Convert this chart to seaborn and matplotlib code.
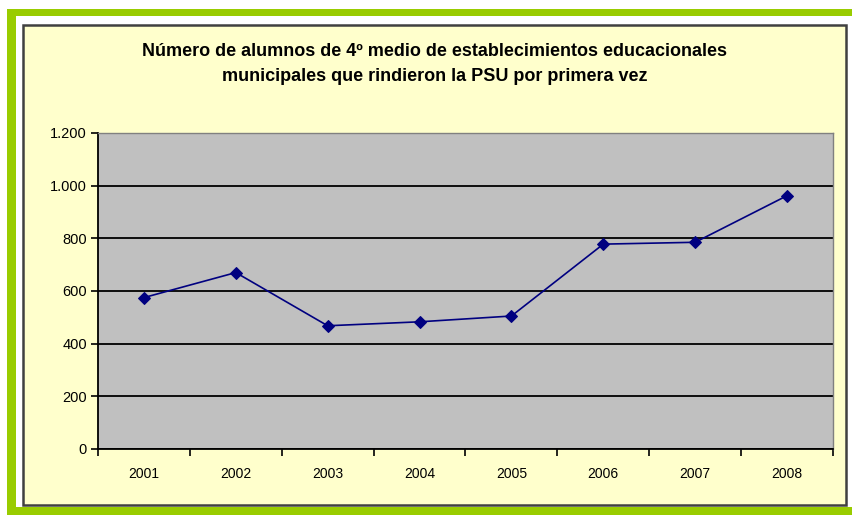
import matplotlib
matplotlib.use("Agg")
import matplotlib.pyplot as plt
import matplotlib.patches as mpatches
from matplotlib.ticker import FixedLocator, FuncFormatter, NullFormatter
import pandas as pd
import seaborn as sns

# data
years = ["2001", "2002", "2003", "2004", "2005", "2006", "2007", "2008"]
alumnos = [575, 670, 468, 483, 505, 778, 785, 962]
y_ticks = [0, 200, 400, 600, 800, 1000, 1200]
title = ("Número de alumnos de 4º medio de establecimientos educacionales\n"
         "municipales que rindieron la PSU por primera vez")

sns.set_theme(style="white")
plt.rcParams['font.family'] = ['Liberation Sans', 'DejaVu Sans']

W, H = 853, 516
fig = plt.figure(figsize=(W / 100, H / 100), dpi=100)
fig.patch.set_facecolor("white")


def px_rect(x0, y0, x1, y1, **kw):
    # rectangle given in pixel coords measured from the top-left corner
    return mpatches.Rectangle((x0 / W, 1 - y1 / H), (x1 - x0) / W, (y1 - y0) / H,
                              transform=fig.transFigure, zorder=-1, **kw)


green = "#99CC00"
fig.patches.append(px_rect(7, 9, 853, 16, facecolor=green, edgecolor="none"))
fig.patches.append(px_rect(7, 9, 16, 515, facecolor=green, edgecolor="none"))
fig.patches.append(px_rect(7, 507, 853, 515, facecolor=green, edgecolor="none"))
fig.patches.append(px_rect(23, 25, 846, 505, facecolor="#FFFFCC",
                           edgecolor="#404040", linewidth=1.8))

ax = fig.add_axes([98 / W, 1 - 449 / H, (833 - 98) / W, (449 - 133) / H])
ax.set_zorder(2)
ax.set_facecolor("#C0C0C0")

df = pd.DataFrame({"Año": years, "Alumnos": alumnos})
sns.lineplot(data=df, x="Año", y="Alumnos", ax=ax, color="#000080",
             marker="D", markersize=6.5, markeredgecolor="#000080",
             linewidth=1.2, sort=False)

ax.set_xlim(-0.5, len(years) - 0.5)
ax.set_ylim(0, 1200)
ax.set_yticks(y_ticks)
ax.yaxis.set_major_formatter(FuncFormatter(lambda v, p: f"{int(v):,}".replace(",", ".")))
ax.yaxis.grid(True, color="black", linewidth=1.3)
ax.set_axisbelow(True)

ax.set_xticks(range(len(years)))
ax.set_xticklabels(years)
ax.xaxis.set_minor_locator(FixedLocator([i - 0.5 for i in range(len(years) + 1)]))
ax.xaxis.set_minor_formatter(NullFormatter())
ax.tick_params(axis="x", which="major", length=0, pad=13, labelsize=10, colors="black")
ax.tick_params(axis="x", which="minor", length=5, width=1.2, direction="out",
               bottom=True, color="black")
ax.tick_params(axis="y", length=5, width=1.2, direction="out", left=True,
               labelsize=10.5, colors="black", pad=3)

ax.set_xlabel("")
ax.set_ylabel("")
for side in ["left", "bottom"]:
    ax.spines[side].set_color("black")
    ax.spines[side].set_linewidth(1.3)
for side in ["top", "right"]:
    ax.spines[side].set_color("#808080")
    ax.spines[side].set_linewidth(1.0)

fig.text(434.5 / W, 1 - 64 / H, title, ha="center", va="center", color="black",
         fontsize=13, fontweight="bold", linespacing=1.6)

fig.savefig("out.png", dpi=100)
